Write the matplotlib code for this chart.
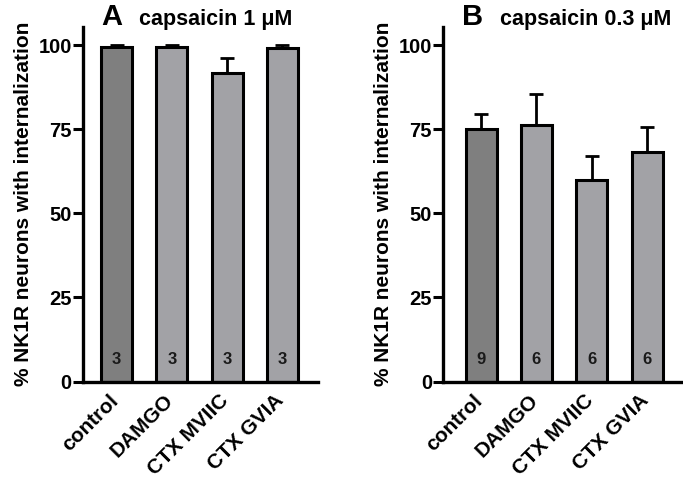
import matplotlib
matplotlib.use("Agg")
import matplotlib.pyplot as plt
import matplotlib.transforms as mtransforms

plt.rcParams['font.family'] = ['Liberation Sans', 'DejaVu Sans']
plt.rcParams['font.weight'] = 'bold'

groups = ["control", "DAMGO", "CTX MVIIC", "CTX GVIA"]

# panel A: capsaicin 1 uM
mean_a = [99.5, 99.5, 91.8, 99.2]
sem_a = [0.6, 0.6, 4.5, 0.9]
n_a = ["3", "3", "3", "3"]

# panel B: capsaicin 0.3 uM
mean_b = [75.1, 76.3, 60.0, 68.3]
sem_b = [4.5, 9.3, 7.1, 7.4]
n_b = ["9", "6", "6", "6"]

yticks = [0, 25, 50, 75, 100]
ylab = "% NK1R neurons with internalization"
colors = ["#7f7f7f", "#a2a2a6", "#a2a2a6", "#a2a2a6"]

fig = plt.figure(figsize=(6.83, 4.8), dpi=100)
axA = fig.add_axes([0.1215, 0.2052, 0.344, 0.7386])
axB = fig.add_axes([0.6486, 0.2052, 0.350, 0.7386])

# nudge rotated labels left a bit
shift = mtransforms.ScaledTranslation(-0.08, -0.01, fig.dpi_scale_trans)


def panel(ax, means, sems, ns, xlim):
	x = list(range(len(groups)))
	ax.bar(x, means, width=0.56, color=colors, edgecolor="black", linewidth=2.2, zorder=2)
	ax.errorbar(x, means, yerr=[[0]*len(sems), sems], fmt="none", ecolor="black",
		elinewidth=2.0, capsize=4.8, capthick=2.0, zorder=1)
	for xi, n in zip(x, ns):
		ax.text(xi, 6.5, n, ha="center", va="center", fontsize=12, fontweight="bold", color="#1a1a1a")
	ax.set_xlim(*xlim)
	ax.set_ylim(0, 105.4)
	ax.set_yticks(yticks)
	ax.set_xticks(x)
	ax.tick_params(axis="x", length=0, pad=6)
	ax.tick_params(axis="y", length=7, width=2.2, labelsize=14.5, pad=1)
	ax.set_xticklabels(groups, rotation=45, ha="right", va="top", rotation_mode="anchor",
		fontsize=15, fontweight="bold")
	for lab in ax.get_xticklabels():
		lab.set_transform(lab.get_transform() + shift)
	for lab in ax.get_yticklabels():
		lab.set_fontweight("bold")
	for s in ["top", "right"]:
		ax.spines[s].set_visible(False)
	for s in ["left", "bottom"]:
		ax.spines[s].set_linewidth(2.4)
	ax.set_ylabel(ylab, fontsize=15, fontweight="bold", labelpad=4)


panel(axA, mean_a, sem_a, n_a, (-0.61, 3.645))
panel(axB, mean_b, sem_b, n_b, (-0.687, 3.633))

fig.text(101/683, 1-17/480, "A", fontsize=21, fontweight="bold", va="center", ha="left")
fig.text(139/683, 1-19/480, "capsaicin 1 μM", fontsize=15.5, fontweight="bold", va="center", ha="left")
fig.text(462/683, 1-17/480, "B", fontsize=21, fontweight="bold", va="center", ha="left")
fig.text(500/683, 1-19/480, "capsaicin 0.3 μM", fontsize=15.5, fontweight="bold", va="center", ha="left")

fig.savefig("out.png", dpi=100)
